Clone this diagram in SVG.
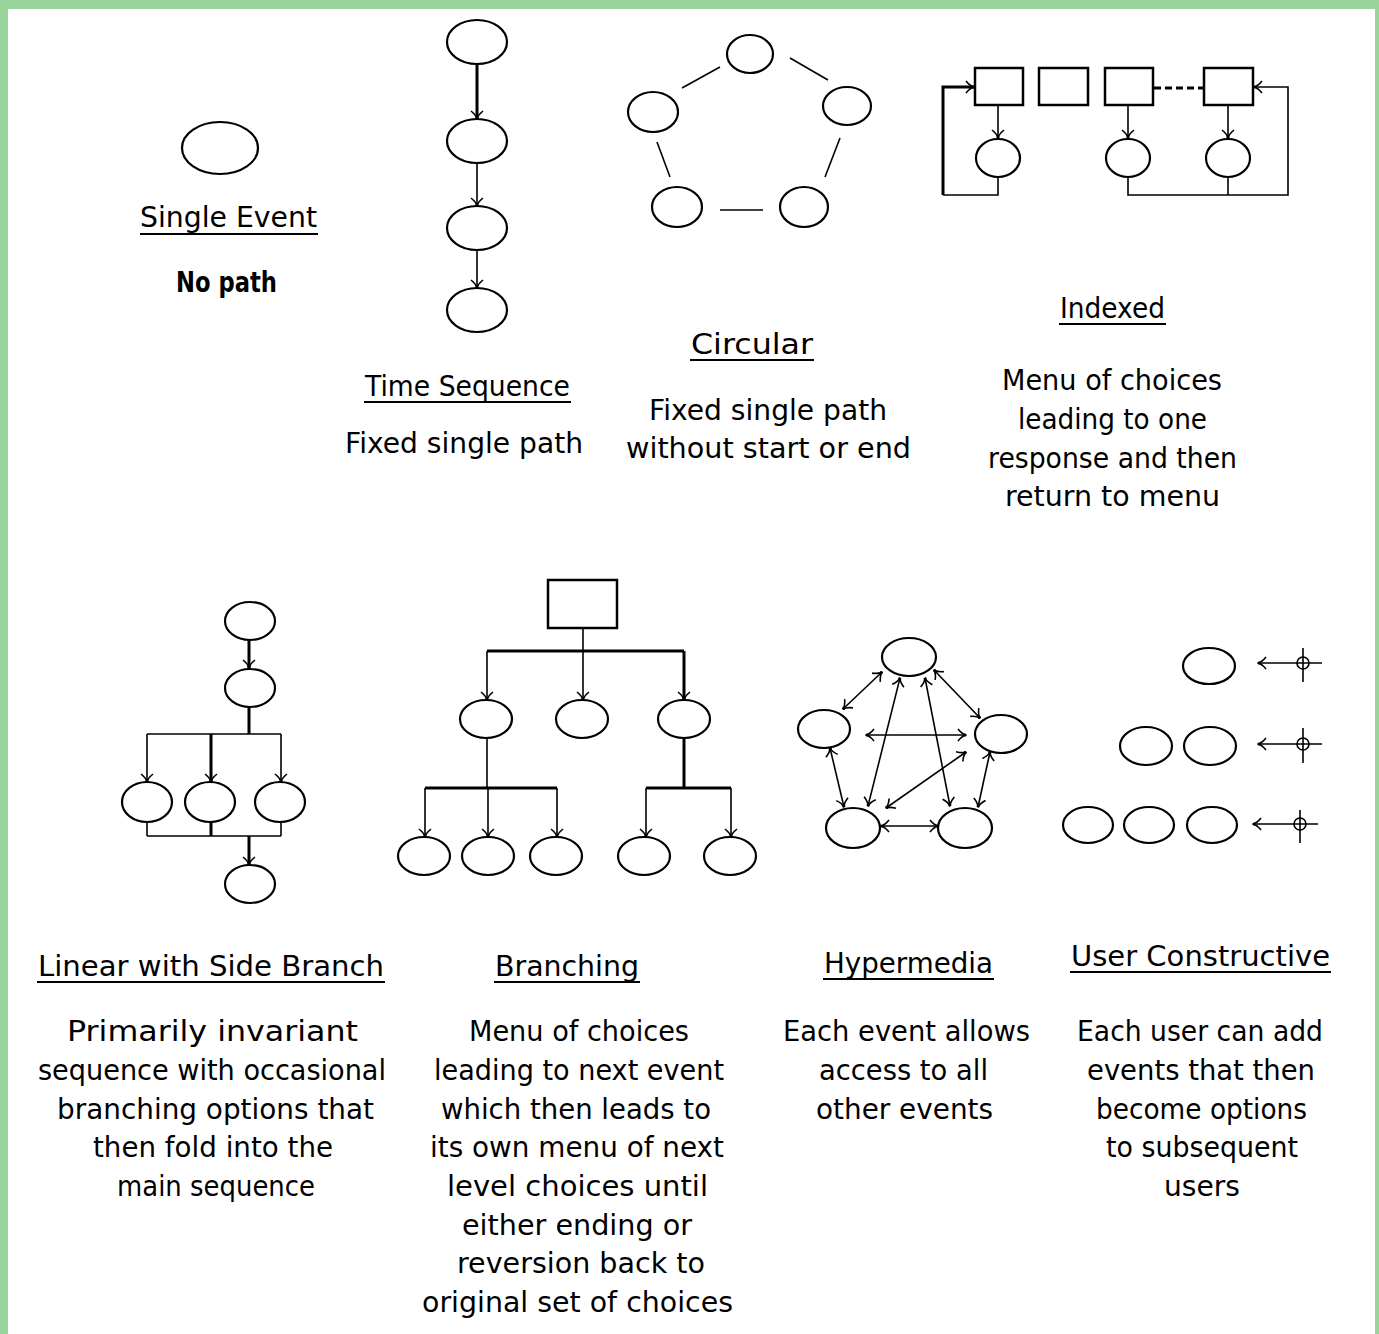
<svg xmlns="http://www.w3.org/2000/svg" width="1379" height="1334" viewBox="0 0 1379 1334">
<style>
.bg{fill:#ffffff}
.frame{fill:#98d49c}
.ev{fill:#ffffff;stroke:#000;stroke-width:2.2}
.box{fill:#ffffff;stroke:#000;stroke-width:2.5}
.c{fill:none;stroke:#000;stroke-width:1.6}
.t{stroke-width:3}
.ul{stroke:#000;stroke-width:2}
text{font-family:"DejaVu Sans","Liberation Sans",sans-serif;font-size:28px;fill:#000}
.b{font-weight:bold}
</style>
<defs>
<marker id="ah" viewBox="-10 -8 12 16" refX="0" refY="0" markerWidth="12" markerHeight="16" markerUnits="userSpaceOnUse" orient="auto-start-reverse">
<path d="M-8,-6 Q-4,-1 0,0 Q-4,1 -8,6" fill="none" stroke="#000" stroke-width="1.6"/>
<circle cx="-1" cy="0" r="1.6" fill="#000"/>
</marker>
</defs>
<rect class="bg" x="0" y="0" width="1379" height="1334"/>
<g id="frame">
<rect class="frame" x="0" y="0" width="1379" height="9"/>
<rect class="frame" x="0" y="0" width="8" height="1334"/>
<rect class="frame" x="1375" y="0" width="4" height="1334"/>
</g>

<g id="connectors">
<!-- time sequence -->
<line class="c t" x1="477" y1="64" x2="477" y2="119" marker-end="url(#ah)"/>
<line class="c" x1="477" y1="163" x2="477" y2="206" marker-end="url(#ah)"/>
<line class="c" x1="477" y1="250" x2="477" y2="288" marker-end="url(#ah)"/>
<!-- circular -->
<line class="c" x1="682" y1="88" x2="720" y2="67"/>
<line class="c" x1="790" y1="58" x2="828" y2="80"/>
<line class="c" x1="840" y1="138" x2="825" y2="177"/>
<line class="c" x1="657" y1="142" x2="670" y2="177"/>
<line class="c" x1="720" y1="210" x2="763" y2="210"/>
<!-- indexed -->
<line class="c" x1="998" y1="105" x2="998" y2="138" marker-end="url(#ah)"/>
<line class="c" x1="1128" y1="105" x2="1128" y2="138" marker-end="url(#ah)"/>
<line class="c" x1="1228" y1="105" x2="1228" y2="138" marker-end="url(#ah)"/>
<polyline class="c" points="998,177 998,195 943,195"/>
<polyline class="c t" points="943,195 943,87 974,87" marker-end="url(#ah)"/>
<polyline class="c" points="1128,177 1128,195 1288,195 1288,87 1254,87" marker-end="url(#ah)"/>
<line class="c" x1="1228" y1="177" x2="1228" y2="195"/>
<line class="c t" x1="1154" y1="88" x2="1203" y2="88" stroke-dasharray="7 4"/>
<!-- linear with side branch -->
<line class="c t" x1="249" y1="640" x2="249" y2="668" marker-end="url(#ah)"/>
<line class="c t" x1="249" y1="707" x2="249" y2="734"/>
<line class="c" x1="147" y1="734" x2="281" y2="734"/>
<line class="c" x1="147" y1="734" x2="147" y2="782" marker-end="url(#ah)"/>
<line class="c t" x1="211" y1="734" x2="211" y2="782" marker-end="url(#ah)"/>
<line class="c" x1="281" y1="734" x2="281" y2="782" marker-end="url(#ah)"/>
<line class="c" x1="147" y1="822" x2="147" y2="836"/>
<line class="c t" x1="211" y1="822" x2="211" y2="836"/>
<line class="c" x1="281" y1="822" x2="281" y2="836"/>
<line class="c" x1="147" y1="836" x2="281" y2="836"/>
<line class="c t" x1="249" y1="836" x2="249" y2="865" marker-end="url(#ah)"/>
<!-- branching -->
<line class="c" x1="583" y1="629" x2="583" y2="651"/>
<line class="c t" x1="487" y1="651" x2="684" y2="651"/>
<line class="c" x1="487" y1="651" x2="487" y2="700" marker-end="url(#ah)"/>
<line class="c" x1="583" y1="651" x2="583" y2="700" marker-end="url(#ah)"/>
<line class="c t" x1="684" y1="651" x2="684" y2="700" marker-end="url(#ah)"/>
<line class="c" x1="487" y1="738" x2="487" y2="788"/>
<line class="c t" x1="425" y1="788" x2="557" y2="788"/>
<line class="c" x1="425" y1="788" x2="425" y2="837" marker-end="url(#ah)"/>
<line class="c" x1="488" y1="788" x2="488" y2="837" marker-end="url(#ah)"/>
<line class="c" x1="557" y1="788" x2="557" y2="837" marker-end="url(#ah)"/>
<line class="c t" x1="684" y1="738" x2="684" y2="788"/>
<line class="c t" x1="646" y1="788" x2="731" y2="788"/>
<line class="c" x1="646" y1="788" x2="646" y2="837" marker-end="url(#ah)"/>
<line class="c" x1="731" y1="788" x2="731" y2="837" marker-end="url(#ah)"/>
<!-- hypermedia -->
<line class="c" x1="882" y1="672" x2="843" y2="709" marker-start="url(#ah)" marker-end="url(#ah)"/>
<line class="c" x1="934" y1="670" x2="980" y2="718" marker-start="url(#ah)" marker-end="url(#ah)"/>
<line class="c" x1="866" y1="735" x2="966" y2="735" marker-start="url(#ah)" marker-end="url(#ah)"/>
<line class="c" x1="830" y1="748" x2="844" y2="807" marker-start="url(#ah)" marker-end="url(#ah)"/>
<line class="c" x1="990" y1="752" x2="978" y2="807" marker-start="url(#ah)" marker-end="url(#ah)"/>
<line class="c" x1="881" y1="826" x2="938" y2="826" marker-start="url(#ah)" marker-end="url(#ah)"/>
<line class="c" x1="900" y1="678" x2="868" y2="806" marker-start="url(#ah)" marker-end="url(#ah)"/>
<line class="c" x1="925" y1="678" x2="950" y2="806" marker-start="url(#ah)" marker-end="url(#ah)"/>
<line class="c" x1="966" y1="752" x2="886" y2="808" marker-start="url(#ah)" marker-end="url(#ah)"/>
<!-- user constructive -->
<line class="c" x1="1322" y1="663" x2="1258" y2="663" marker-end="url(#ah)"/>
<line class="c" x1="1303" y1="648" x2="1303" y2="682"/>
<line class="c" x1="1322" y1="744" x2="1258" y2="744" stroke-width="2.5" marker-end="url(#ah)"/>
<line class="c" x1="1303" y1="728" x2="1303" y2="763"/>
<line class="c" x1="1318" y1="824" x2="1253" y2="824" marker-end="url(#ah)"/>
<line class="c" x1="1300" y1="810" x2="1300" y2="843" stroke-width="2.5"/>
<circle class="c" cx="1303" cy="663" r="6" stroke-width="2"/>
<circle class="c" cx="1303" cy="744" r="6" stroke-width="2"/>
<circle class="c" cx="1300" cy="824" r="6" stroke-width="2"/>
</g>

<g id="single-event"><ellipse class="ev" cx="220" cy="148" rx="38" ry="26"/></g>

<g id="ts-1"><ellipse class="ev" cx="477" cy="42" rx="30" ry="22"/></g>
<g id="ts-2"><ellipse class="ev" cx="477" cy="141" rx="30" ry="22"/></g>
<g id="ts-3"><ellipse class="ev" cx="477" cy="228" rx="30" ry="22"/></g>
<g id="ts-4"><ellipse class="ev" cx="477" cy="310" rx="30" ry="22"/></g>

<g id="ci-top"><ellipse class="ev" cx="750" cy="54" rx="23" ry="19"/></g>
<g id="ci-left"><ellipse class="ev" cx="653" cy="112" rx="25" ry="20"/></g>
<g id="ci-right"><ellipse class="ev" cx="847" cy="106" rx="24" ry="19"/></g>
<g id="ci-bl"><ellipse class="ev" cx="677" cy="207" rx="25" ry="20"/></g>
<g id="ci-br"><ellipse class="ev" cx="804" cy="207" rx="24" ry="20"/></g>

<g id="ix-box1"><rect class="box" x="975" y="68" width="48" height="37"/></g>
<g id="ix-box2"><rect class="box" x="1039" y="68" width="49" height="37"/></g>
<g id="ix-box3"><rect class="box" x="1105" y="68" width="48" height="37"/></g>
<g id="ix-box4"><rect class="box" x="1204" y="68" width="49" height="37"/></g>
<g id="ix-ev1"><ellipse class="ev" cx="998" cy="158" rx="22" ry="19"/></g>
<g id="ix-ev2"><ellipse class="ev" cx="1128" cy="158" rx="22" ry="19"/></g>
<g id="ix-ev3"><ellipse class="ev" cx="1228" cy="158" rx="22" ry="19"/></g>

<g id="lb-1"><ellipse class="ev" cx="250" cy="621" rx="25" ry="19"/></g>
<g id="lb-2"><ellipse class="ev" cx="250" cy="688" rx="25" ry="19"/></g>
<g id="lb-s1"><ellipse class="ev" cx="147" cy="802" rx="25" ry="20"/></g>
<g id="lb-s2"><ellipse class="ev" cx="210" cy="802" rx="25" ry="20"/></g>
<g id="lb-s3"><ellipse class="ev" cx="280" cy="802" rx="25" ry="20"/></g>
<g id="lb-3"><ellipse class="ev" cx="250" cy="884" rx="25" ry="19"/></g>

<g id="br-root"><rect class="box" x="548" y="580" width="69" height="48"/></g>
<g id="br-a"><ellipse class="ev" cx="486" cy="719" rx="26" ry="19"/></g>
<g id="br-b"><ellipse class="ev" cx="582" cy="719" rx="26" ry="19"/></g>
<g id="br-c"><ellipse class="ev" cx="684" cy="719" rx="26" ry="19"/></g>
<g id="br-a1"><ellipse class="ev" cx="424" cy="856" rx="26" ry="19"/></g>
<g id="br-a2"><ellipse class="ev" cx="488" cy="856" rx="26" ry="19"/></g>
<g id="br-a3"><ellipse class="ev" cx="556" cy="856" rx="26" ry="19"/></g>
<g id="br-c1"><ellipse class="ev" cx="644" cy="856" rx="26" ry="19"/></g>
<g id="br-c2"><ellipse class="ev" cx="730" cy="856" rx="26" ry="19"/></g>

<g id="hm-top"><ellipse class="ev" cx="909" cy="657" rx="27" ry="19"/></g>
<g id="hm-left"><ellipse class="ev" cx="824" cy="729" rx="26" ry="19"/></g>
<g id="hm-right"><ellipse class="ev" cx="1001" cy="734" rx="26" ry="19"/></g>
<g id="hm-bl"><ellipse class="ev" cx="853" cy="828" rx="27" ry="20"/></g>
<g id="hm-br"><ellipse class="ev" cx="965" cy="828" rx="27" ry="20"/></g>

<g id="uc-r1a"><ellipse class="ev" cx="1209" cy="666" rx="26" ry="18"/></g>
<g id="uc-r2a"><ellipse class="ev" cx="1146" cy="746" rx="26" ry="19"/></g>
<g id="uc-r2b"><ellipse class="ev" cx="1210" cy="746" rx="26" ry="19"/></g>
<g id="uc-r3a"><ellipse class="ev" cx="1088" cy="825" rx="25" ry="18"/></g>
<g id="uc-r3b"><ellipse class="ev" cx="1149" cy="825" rx="25" ry="18"/></g>
<g id="uc-r3c"><ellipse class="ev" cx="1212" cy="825" rx="25" ry="18"/></g>

<g id="labels">
<text x="140" y="227" textLength="177" lengthAdjust="spacingAndGlyphs">Single Event</text>
<line class="ul" x1="140" y1="234" x2="318" y2="234"/>
<text class="b" x="176" y="292" textLength="101" lengthAdjust="spacingAndGlyphs">No path</text>

<text x="365" y="396" textLength="205" lengthAdjust="spacingAndGlyphs">Time Sequence</text>
<line class="ul" x1="364" y1="402" x2="571" y2="402"/>
<text x="345" y="453" textLength="238" lengthAdjust="spacingAndGlyphs">Fixed single path</text>

<text x="691" y="354" textLength="122" lengthAdjust="spacingAndGlyphs">Circular</text>
<line class="ul" x1="690" y1="360" x2="814" y2="360"/>
<text x="649" y="420" textLength="238" lengthAdjust="spacingAndGlyphs">Fixed single path</text>
<text x="626" y="458" textLength="285" lengthAdjust="spacingAndGlyphs">without start or end</text>

<text x="1060" y="318" textLength="105" lengthAdjust="spacingAndGlyphs">Indexed</text>
<line class="ul" x1="1059" y1="324" x2="1166" y2="324"/>
<text x="1002" y="390" textLength="220" lengthAdjust="spacingAndGlyphs">Menu of choices</text>
<text x="1018" y="429" textLength="189" lengthAdjust="spacingAndGlyphs">leading to one</text>
<text x="988" y="468" textLength="249" lengthAdjust="spacingAndGlyphs">response and then</text>
<text x="1005" y="506" textLength="215" lengthAdjust="spacingAndGlyphs">return to menu</text>

<text x="38" y="976" textLength="346" lengthAdjust="spacingAndGlyphs">Linear with Side Branch</text>
<line class="ul" x1="37" y1="982" x2="385" y2="982"/>
<text x="67" y="1041" textLength="291" lengthAdjust="spacingAndGlyphs">Primarily invariant</text>
<text x="38" y="1080" textLength="348" lengthAdjust="spacingAndGlyphs">sequence with occasional</text>
<text x="57" y="1119" textLength="317" lengthAdjust="spacingAndGlyphs">branching options that</text>
<text x="93" y="1157" textLength="240" lengthAdjust="spacingAndGlyphs">then fold into the</text>
<text x="117" y="1196" textLength="198" lengthAdjust="spacingAndGlyphs">main sequence</text>

<text x="495" y="976" textLength="144" lengthAdjust="spacingAndGlyphs">Branching</text>
<line class="ul" x1="494" y1="982" x2="640" y2="982"/>
<text x="469" y="1041" textLength="220" lengthAdjust="spacingAndGlyphs">Menu of choices</text>
<text x="434" y="1080" textLength="290" lengthAdjust="spacingAndGlyphs">leading to next event</text>
<text x="441" y="1119" textLength="270" lengthAdjust="spacingAndGlyphs">which then leads to</text>
<text x="430" y="1157" textLength="294" lengthAdjust="spacingAndGlyphs">its own menu of next</text>
<text x="447" y="1196" textLength="261" lengthAdjust="spacingAndGlyphs">level choices until</text>
<text x="462" y="1235" textLength="230" lengthAdjust="spacingAndGlyphs">either ending or</text>
<text x="457" y="1273" textLength="248" lengthAdjust="spacingAndGlyphs">reversion back to</text>
<text x="422" y="1312" textLength="311" lengthAdjust="spacingAndGlyphs">original set of choices</text>

<text x="824" y="973" textLength="169" lengthAdjust="spacingAndGlyphs">Hypermedia</text>
<line class="ul" x1="823" y1="979" x2="994" y2="979"/>
<text x="783" y="1041" textLength="247" lengthAdjust="spacingAndGlyphs">Each event allows</text>
<text x="819" y="1080" textLength="169" lengthAdjust="spacingAndGlyphs">access to all</text>
<text x="816" y="1119" textLength="177" lengthAdjust="spacingAndGlyphs">other events</text>

<text x="1071" y="966" textLength="259" lengthAdjust="spacingAndGlyphs">User Constructive</text>
<line class="ul" x1="1070" y1="972" x2="1331" y2="972"/>
<text x="1077" y="1041" textLength="246" lengthAdjust="spacingAndGlyphs">Each user can add</text>
<text x="1087" y="1080" textLength="228" lengthAdjust="spacingAndGlyphs">events that then</text>
<text x="1096" y="1119" textLength="211" lengthAdjust="spacingAndGlyphs">become options</text>
<text x="1106" y="1157" textLength="192" lengthAdjust="spacingAndGlyphs">to subsequent</text>
<text x="1164" y="1196" textLength="76" lengthAdjust="spacingAndGlyphs">users</text>
</g>
</svg>
